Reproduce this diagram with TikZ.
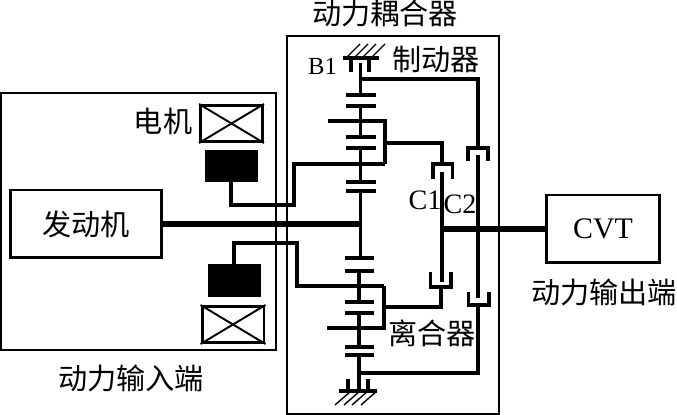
\documentclass[tikz,border=0pt]{standalone}
\usepackage{fontspec}
\setmainfont{Liberation Serif}
\newfontfamily\cjk{Noto Sans CJK SC}
\usetikzlibrary{positioning}

\begin{document}
\begin{tikzpicture}[x=0.02cm,y=-0.02cm,
    frame/.style={draw,line width=0.8pt,inner sep=0pt},
    block/.style={draw,line width=1.7pt,inner sep=0pt},
    rotor/.style={draw,fill=black,inner sep=0pt,minimum width=1.04cm,minimum height=0.63cm},
    stator/.style={draw,line width=1.7pt,inner sep=0pt,minimum width=1.24cm,minimum height=0.72cm},
    shaft/.style={line width=1.9pt},
    gear/.style={line width=1.9pt},
    mainshaft/.style={line width=3.5pt},
    hatch/.style={line width=0.8pt},
    cjktext/.style={inner sep=0pt,font=\fontsize{16.6}{16.6}\selectfont\cjk},
    latin/.style={inner sep=0pt,font=\fontsize{16}{16}\selectfont}]
    \useasboundingbox (0,0) rectangle (677,415);

    % outlines
    \node[frame,minimum width=5.5cm,minimum height=5.14cm] (inputbox) at (138.5,221.5) {};
    \node[frame,minimum width=4.24cm,minimum height=7.56cm] (couplerbox) at (393,225) {};

    % blocks
    \node[block,minimum width=3.04cm,minimum height=1.36cm] (engine) at (86,224) {\fontsize{16.6}{16.6}\selectfont\cjk 发动机};
    \node[block,minimum width=2.28cm,minimum height=1.36cm] (cvt) at (603,229) {\fontsize{17}{17}\selectfont CVT};

    % motor
    \node[stator] (statorA) at (231.5,123.5) {};
    \node[stator] (statorB) at (233,324.5) {};
    \node[rotor] (rotorA) at (231,166) {};
    \node[rotor] (rotorB) at (234,280.5) {};
    \foreach \s in {statorA,statorB}{
        \draw[line width=1.1pt] (\s.north west) -- (\s.south east);
        \draw[line width=1.1pt] (\s.south west) -- (\s.north east);
    }

    % junctions
    \coordinate (topA) at (328,121);
    \coordinate (topB) at (385,121);
    \coordinate (topC) at (385,143);
    \coordinate (topD) at (385,164);
    \coordinate (lowA) at (327,328);
    \coordinate (lowB) at (384,328);
    \coordinate (lowC) at (384,307);
    \coordinate (lowD) at (384,286);
    \coordinate (cA) at (442,164);
    \coordinate (cB) at (441,287);
    \coordinate (dA) at (478,148);
    \coordinate (dB) at (478,305);
    \coordinate (hubA) at (360.5,79);
    \coordinate (hubB) at (359,373);
    \coordinate (hubC) at (360.5,224);
    \coordinate (outC) at (442,229);
    \coordinate (wireA) at (231,205);
    \coordinate (wireB) at (294,205);
    \coordinate (wireC) at (234,243);
    \coordinate (wireD) at (297,243);

    % sun, carrier and ring gears
    \foreach \a/\b in {63/95,106/137,148/182,191/258}{
        \draw[shaft] (360.5,\a) -- (360.5,\b);
    }
    \foreach \a/\b in {271/302,313/347,355/391}{
        \draw[shaft] (359,\a) -- (359,\b);
    }
    \foreach \y in {95,106,137,148,182,191}{
        \draw[gear] (346,\y) -- (375.5,\y);
    }
    \foreach \y in {258,271,302,313,347,355}{
        \draw[gear] (344.5,\y) -- (374,\y);
    }
    \draw[shaft] (topA) -- (topB) -- (topD);
    \draw[shaft] (lowA) -- (lowB) -- (lowD);

    % motor links
    \draw[shaft] (rotorA.south) -- (wireA) -- (wireB) |- (topD);
    \draw[shaft] (rotorB.north) -- (wireC) -- (wireD) |- (lowD);
    \draw[mainshaft] (engine.east) -- (hubC);
    \draw[mainshaft] (outC) -- (cvt.west);

    % clutches
    \draw[shaft] (topC) -| (cA);
    \draw[shaft] (lowC) -| (cB);
    \draw[shaft] (433,179) -- (433,164) -- (452.5,164) -- (452.5,179);
    \draw[shaft] (430.5,272) -- (430.5,287) -- (451,287) -- (451,272);
    \draw[shaft] (442,172) -- (442,282);
    \draw[shaft] (hubA) -| (dA);
    \draw[shaft] (hubB) -| (dB);
    \draw[shaft] (468,161) -- (468,148) -- (488,148) -- (488,161);
    \draw[shaft] (468.5,292) -- (468.5,305) -- (489,305) -- (489,292);
    \draw[shaft] (478,155) -- (478,298);

    % brakes
    \draw[shaft] (343,58) -- (379,58);
    \draw[shaft] (351,58) -- (351,72);
    \draw[shaft] (369,58) -- (369,72);
    \foreach \x in {346,354,362,371}{
        \draw[hatch] (\x,58) -- (\x+14,44);
    }
    \draw[shaft] (339,391) -- (377,391);
    \draw[shaft] (348,379) -- (348,391);
    \draw[shaft] (368,379) -- (368,391);
    \foreach \x in {343,352,360,369}{
        \draw[hatch] (\x+8,391) -- (\x-8,405);
    }

    % labels
    \node[cjktext] (couplertext) at (385,13) {动力耦合器};
    \node[cjktext] (braketext) at (436,59) {制动器};
    \node[cjktext] (motortext) at (163,121) {电机};
    \node[cjktext] (intext) at (131,378) {动力输入端};
    \node[cjktext] (outtext) at (604,292) {动力输出端};
    \node[cjktext] (clutchtext) at (432,333) {离合器};
    \node[latin,font=\fontsize{14}{14}\selectfont] (bone) at (322.5,66) {B1};
    \node[latin] (cone) at (425,200) {C1};
    \node[latin] (ctwo) at (460,204) {C2};
\end{tikzpicture}
\end{document}
